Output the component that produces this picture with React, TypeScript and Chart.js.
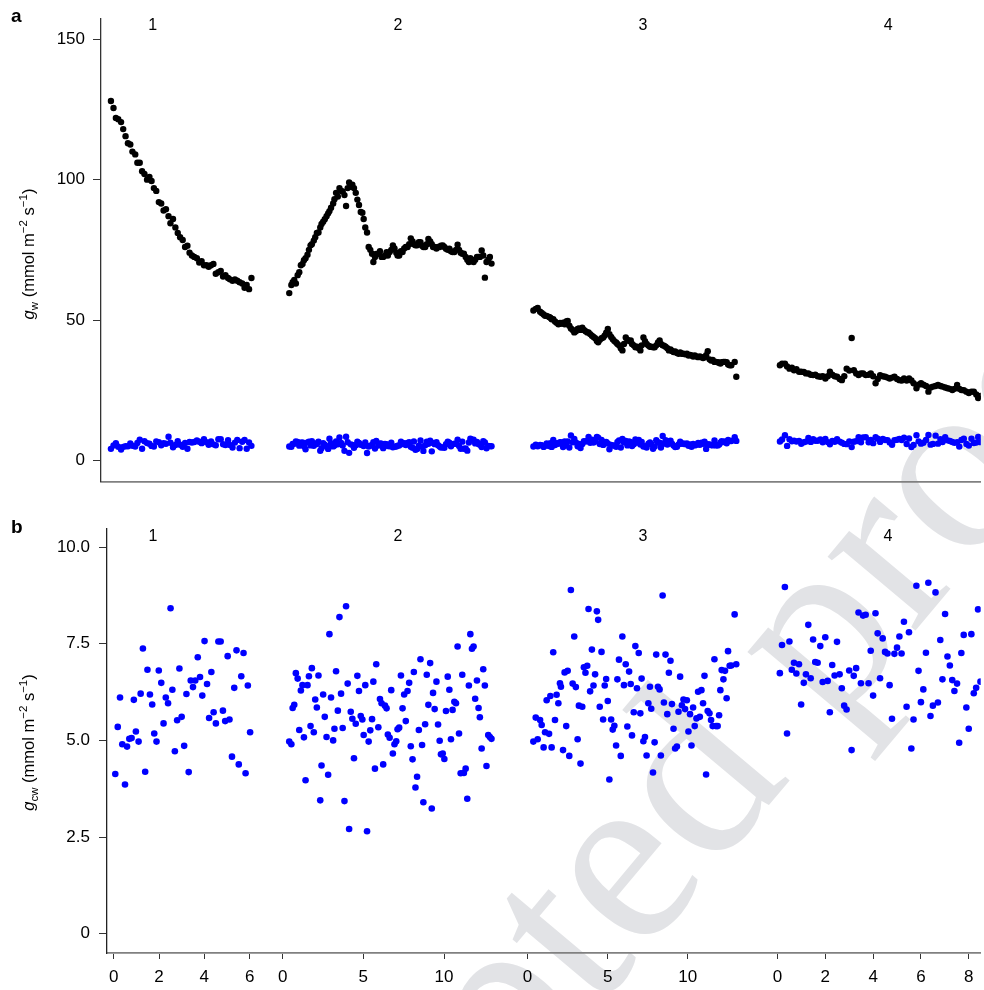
import React, { useEffect, useRef } from "react";
import { Chart, registerables } from "chart.js";

Chart.register(...registerables);

// ---------------- data ----------------
// time within each measurement run (x), g_w (panel a, black) and g_cw (panels a & b, blue)
const timeF1 = [0.07,0.18,0.28,0.38,0.50,0.59,0.69,0.79,0.89,0.98,1.10,1.19,1.29,1.39,1.49,1.60,1.70,1.79,1.89,1.99,2.10,2.20,2.30,2.40,2.51,2.59,2.70,2.80,2.90,3.00,3.11,3.21,3.31,3.40,3.50,3.60,3.71,3.81,3.91,4.01,4.12,4.21,4.31,4.41,4.51,4.62,4.72,4.82,4.92,5.03,5.11,5.22,5.32,5.42,5.52,5.63,5.73,5.82,5.92,6.02];
const gwF1 = [128,125.5,122,121.5,120.5,118,115.5,113,112.5,110,109,106,106,103,102,100,101,99.5,97,96,92,91.5,89,89.5,87,84.5,86,83,81,79.5,78.5,76,76.5,74,73,72.5,72,70.5,71,69.5,69.5,69,69.5,70,66.5,67,67.5,65.5,66,65,64.5,64,64.5,64,63.5,63,61.5,62.5,61,65];
const gcwF1 = [4.13,5.35,6.11,4.90,3.86,4.84,5.04,5.06,6.05,5.23,4.97,6.21,7.38,4.19,6.83,6.19,5.93,5.18,4.97,6.81,6.49,5.44,6.11,5.96,8.42,6.31,4.72,5.52,6.86,5.61,4.86,6.20,4.18,6.55,6.38,6.55,7.15,6.64,6.16,7.57,6.46,5.58,6.77,5.73,5.44,7.56,7.56,5.77,5.50,7.18,5.54,4.58,6.36,7.33,4.38,6.66,7.26,4.15,6.42,5.21];

const timeF2 = [0.41,0.54,0.62,0.72,0.82,0.93,1.03,1.13,1.23,1.32,1.42,1.54,1.63,1.73,1.81,1.93,2.02,2.12,2.22,2.33,2.41,2.51,2.61,2.72,2.82,2.90,3.00,3.13,3.21,3.31,3.42,3.52,3.62,3.72,3.83,3.93,4.03,4.12,4.22,4.32,4.42,4.53,4.63,4.73,4.84,4.94,5.02,5.12,5.23,5.33,5.43,5.54,5.62,5.72,5.80,5.93,6.03,6.13,6.23,6.34,6.44,6.52,6.63,6.73,6.83,6.93,7.04,7.12,7.22,7.33,7.43,7.53,7.63,7.74,7.84,7.94,8.05,8.13,8.23,8.33,8.44,8.54,8.64,8.72,8.83,8.93,9.03,9.14,9.24,9.32,9.42,9.53,9.63,9.73,9.81,9.92,10.02,10.12,10.23,10.33,10.43,10.53,10.64,10.74,10.84,10.93,11.03,11.13,11.23,11.34,11.44,11.54,11.63,11.73,11.83,11.93,12.04,12.14,12.22,12.33,12.43,12.53,12.63,12.74,12.84,12.94];
const gwF2 = [59.6,62.5,63.5,64.3,63,66,67,69.5,70,71.3,72,73.3,75,76.6,77,78.3,79.5,81,81.2,83,84.2,85,85.9,87,88,88.8,90,91.5,93,95.3,94,97,96,95.8,94.5,90.6,97,99,97.5,98.2,97,95.3,92.9,91,88.5,88.2,86,83,81.2,76,75,73.6,70.7,72.5,73.5,73.6,74.5,72.5,72.5,73,74.2,73,74.2,75,76.6,75.5,74,73,73,74.5,74.2,75.5,76,76,77,79.1,78,77,76.6,76.6,77.7,77.7,76.5,76,76,77,78.9,78,77,76,76,75.5,76,76,76.5,76.6,76,75.4,75,75.4,74.5,74.2,74.2,75,76.8,75,74,73.6,73.6,72.5,71.5,70.7,72,71,70.7,71.5,72.5,72.5,72.5,74.8,73,65.1,70.7,71.5,72.5,70.1];
const gcwF2 = [4.97,4.90,5.84,5.92,6.74,6.60,5.27,6.29,6.43,5.08,3.97,6.43,6.66,5.37,6.87,5.21,6.06,5.85,6.68,3.45,4.35,6.19,5.61,5.09,4.11,7.75,6.11,5.00,5.30,6.79,5.77,8.19,6.21,5.32,3.43,8.47,6.47,2.71,5.74,5.56,4.54,5.43,6.67,6.28,5.63,5.54,5.14,6.43,2.65,4.97,5.26,5.55,6.52,4.27,6.97,5.34,6.07,5.96,4.38,5.90,5.83,5.15,5.07,6.30,4.66,4.90,4.98,5.29,5.33,6.68,5.83,6.19,5.50,6.28,6.49,4.85,4.51,6.77,3.78,4.06,5.27,7.10,4.88,3.40,5.42,6.70,5.92,7.00,3.24,6.23,5.81,6.52,5.41,4.99,4.64,4.66,4.52,5.76,6.65,6.31,5.03,5.79,6.00,5.96,7.43,5.18,4.15,6.70,4.16,4.27,3.49,6.42,7.75,7.37,7.43,6.08,6.55,5.84,5.60,4.79,6.84,6.42,4.34,5.14,5.09,5.04];

const timeF3 = [0.37,0.52,0.64,0.79,0.89,1.01,1.10,1.20,1.35,1.43,1.51,1.61,1.72,1.82,1.93,2.03,2.09,2.22,2.32,2.42,2.51,2.61,2.71,2.82,2.92,3.02,3.13,3.21,3.31,3.42,3.52,3.62,3.73,3.81,3.91,4.02,4.12,4.22,4.33,4.41,4.51,4.62,4.72,4.82,4.91,5.01,5.11,5.22,5.32,5.42,5.53,5.61,5.71,5.82,5.92,6.02,6.13,6.23,6.34,6.44,6.52,6.63,6.73,6.83,6.94,7.04,7.12,7.23,7.33,7.43,7.54,7.64,7.72,7.83,7.93,8.03,8.14,8.24,8.32,8.43,8.51,8.61,8.72,8.82,8.92,9.01,9.11,9.21,9.32,9.42,9.52,9.63,9.73,9.83,9.94,10.04,10.14,10.23,10.33,10.43,10.54,10.64,10.75,10.85,10.95,11.04,11.14,11.24,11.35,11.45,11.55,11.66,11.76,11.86,11.95,12.03,12.11,12.22,12.32,12.42,12.51,12.61,12.71,12.92,13.02];
const gwF3 = [53.4,54,54.3,53,52.5,52,51.5,51.5,51.1,50.8,50.3,50.3,49.5,49,48.5,49,48.7,49.1,48.5,49.5,49.7,48,47,46.5,45.6,46,46.8,47,46.5,47.3,46.5,46,45.6,45.6,45,44.4,44,43.5,42.5,42.1,43,43.5,43.8,44.5,45.5,46.8,45,44,43.2,42.5,42,41.5,41,40,39.2,41.5,43.8,43,42.5,42.7,41.5,41,40.3,40.5,40,39.2,41,43.8,42.5,41.5,40.9,40.5,40.5,40.3,40.3,41,42,42.7,41.5,41,40.9,40.5,40,39.2,39.5,39,38.6,38.8,38.3,38,38.5,38,38,37.8,38,37.4,37.6,37.4,37,37.4,37,36.8,37,36.8,36.5,36.8,37.5,38.9,36,35.6,35.8,35.1,35.1,35,34.8,34.5,35,35.1,35.1,35,34.2,33.9,33.9,35.1,29.8];
const gcwF3 = [4.97,5.59,5.03,5.53,5.40,4.82,5.21,6.04,5.17,6.15,4.82,7.28,5.53,6.18,5.96,6.48,6.39,4.75,6.76,5.37,6.80,4.60,8.89,6.47,7.69,6.38,5.03,5.90,4.40,5.87,6.89,6.75,6.93,8.40,6.27,7.35,6.42,6.71,8.34,8.12,5.87,7.29,5.54,6.42,6.59,6.02,3.99,5.54,5.28,5.38,4.87,6.58,7.09,4.60,7.69,6.43,6.97,5.36,6.78,6.46,5.13,5.73,7.44,6.35,7.26,5.70,6.60,4.98,5.09,4.61,5.96,6.39,5.82,4.17,4.95,7.22,6.39,6.32,4.61,8.75,5.98,7.22,5.68,6.75,7.06,5.94,5.30,4.79,4.84,5.74,6.65,5.91,6.06,5.81,6.04,5.23,5.68,4.87,5.85,5.37,5.57,6.26,5.61,6.30,5.96,6.67,4.12,5.76,5.70,5.53,5.37,7.10,5.37,5.37,5.65,6.30,6.82,6.58,6.80,6.09,7.31,6.93,6.94,8.26,6.97];

const timeF4 = [0.10,0.19,0.31,0.40,0.50,0.60,0.69,0.79,0.90,0.99,1.10,1.19,1.29,1.39,1.49,1.58,1.68,1.79,1.89,2.00,2.10,2.19,2.29,2.39,2.49,2.60,2.69,2.79,2.89,3.00,3.10,3.19,3.29,3.39,3.49,3.58,3.69,3.81,3.90,4.00,4.10,4.19,4.29,4.40,4.50,4.60,4.69,4.79,4.89,5.00,5.10,5.19,5.29,5.40,5.50,5.60,5.69,5.81,5.90,6.00,6.10,6.21,6.31,6.40,6.50,6.61,6.71,6.81,6.90,7.01,7.11,7.21,7.31,7.40,7.51,7.60,7.69,7.79,7.90,8.00,8.11,8.21,8.31,8.39,8.49];
const gwF4 = [33.9,34.5,34.5,33.5,32.7,33,32.1,32.5,31.6,31.6,31.5,31,31,30.5,30.4,30.5,30,29.8,30,29.2,30,31.6,30.5,30,29.8,29,28.6,30,32.7,32,43.6,32.1,31,30.4,31,31,30.4,30.5,31,30,27.5,29,30.4,30,29.8,29.5,29.2,29.5,29.8,29,28.6,28.5,29.2,28.5,29.2,28.5,27.5,25.7,27,27.5,27,26.5,24.5,26,26.3,26.5,26.9,26.5,26.3,26,25.7,25.5,25.1,25.5,26.9,25.5,25.1,25,24.5,24,24.5,24.5,23.5,22.2,23];
const gcwF4 = [6.74,7.47,8.97,5.18,7.56,6.83,7.01,6.73,6.97,5.93,6.49,6.71,7.99,6.61,7.61,7.03,7.01,7.44,6.51,7.67,6.54,5.73,6.95,6.68,7.55,6.71,6.35,5.90,5.80,6.81,4.75,6.67,6.87,8.31,6.48,8.23,8.25,6.48,7.32,6.16,8.29,7.77,6.61,7.64,7.29,7.25,6.43,5.56,7.24,7.40,7.69,7.25,8.07,5.87,7.80,4.79,5.54,9.00,6.80,5.99,6.32,7.27,9.08,5.63,5.90,8.83,5.98,7.60,6.58,8.27,7.17,6.94,6.56,6.28,6.47,4.94,7.26,7.73,5.85,5.30,7.75,6.22,6.36,8.39,6.52];

const facetNames = ["1", "2", "3", "4"];
const facetTimes = [timeF1, timeF2, timeF3, timeF4];
const facetGw = [gwF1, gwF2, gwF3, gwF4];
const facetGcw = [gcwF1, gcwF2, gcwF3, gcwF4];
const facetXTicks = [[0, 2, 4, 6], [0, 5, 10], [0, 5, 10], [0, 2, 4, 6, 8]];

const gwYTicks = [0, 50, 100, 150];
const gwYTickLabels = ["0", "50", "100", "150"];
const gcwYTicks = [0, 2.5, 5, 7.5, 10];
const gcwYTickLabels = ["0", "2.5", "5.0", "7.5", "10.0"];

// ---------------- layout (page pixels) ----------------
const PAGE_W = 984;
const PAGE_H = 990;
const FONT = '"Liberation Sans", Arial, Helvetica, sans-serif';
const SERIF = '"Liberation Serif", "Times New Roman", serif';
// each facet occupies its own strip of the shared x scale: page x = origin + perUnit * time
const facetStripsA = [
  { origin: 109.3, perUnit: 23.7 },
  { origin: 283.3, perUnit: 16.2 },
  { origin: 529, perUnit: 16.1 },
  { origin: 780, perUnit: 24 },
];
const facetStripsB = [
  { origin: 113.7, perUnit: 22.75 },
  { origin: 283.3, perUnit: 16.2 },
  { origin: 529, perUnit: 16.1 },
  { origin: 780, perUnit: 24 },
];
const facetLabelPageX = [153, 399, 645, 891];

type Strip = { origin: number; perUnit: number };

function stripPoints(strips: Strip[], values: number[][]) {
  const pts: { x: number; y: number }[] = [];
  values.forEach((vals, f) => {
    const s = strips[f];
    facetTimes[f].forEach((t, i) => {
      if (vals[i] !== undefined) pts.push({ x: s.origin + s.perUnit * t, y: vals[i] });
    });
  });
  return pts;
}

function drawWatermark(ctx: CanvasRenderingContext2D, canvasTop: number) {
  ctx.save();
  ctx.translate(0, -canvasTop);
  ctx.translate(185, 1501);
  ctx.rotate((-50 * Math.PI) / 180);
  ctx.font = `250px ${SERIF}`;
  ctx.fillStyle = "rgb(226,227,230)";
  ctx.textAlign = "left";
  ctx.textBaseline = "alphabetic";
  ctx.fillText("Accepted proof", 0, 0);
  ctx.restore();
}

function drawYTitle(ctx: CanvasRenderingContext2D, cx: number, cy: number, sub: string) {
  const size = 16.5;
  const small = 11.5;
  const parts = [
    { t: "g", f: `italic ${size}px ${FONT}`, dy: 0 },
    { t: sub, f: `${small}px ${FONT}`, dy: 4 },
    { t: " (mmol m", f: `${size}px ${FONT}`, dy: 0 },
    { t: "\u22122", f: `${small}px ${FONT}`, dy: -7 },
    { t: " s", f: `${size}px ${FONT}`, dy: 0 },
    { t: "\u22121", f: `${small}px ${FONT}`, dy: -7 },
    { t: ")", f: `${size}px ${FONT}`, dy: 0 },
  ];
  ctx.save();
  ctx.translate(cx, cy);
  ctx.rotate(-Math.PI / 2);
  ctx.fillStyle = "#000";
  ctx.textBaseline = "alphabetic";
  ctx.textAlign = "left";
  let total = 0;
  const widths = parts.map((p) => {
    ctx.font = p.f;
    const w = ctx.measureText(p.t).width;
    total += w;
    return w;
  });
  let x = -total / 2;
  parts.forEach((p, i) => {
    ctx.font = p.f;
    ctx.fillText(p.t, x, p.dy);
    x += widths[i];
  });
  ctx.restore();
}

type Decor = {
  canvasTop: number;
  letter: string;
  letterY: number;
  facetLabelY: number;
  titleY: number;
  titleSub: string;
};

function makeDecorPlugin(d: Decor) {
  return {
    id: "decor" + d.letter,
    beforeDraw(chart: any) {
      drawWatermark(chart.ctx, d.canvasTop);
    },
    afterDraw(chart: any) {
      const ctx = chart.ctx as CanvasRenderingContext2D;
      const xs = chart.scales.x;
      ctx.save();
      ctx.fillStyle = "#000";
      ctx.font = `bold 19px ${FONT}`;
      ctx.textAlign = "left";
      ctx.textBaseline = "alphabetic";
      ctx.fillText(d.letter, 11, d.letterY - d.canvasTop);
      ctx.font = `16px ${FONT}`;
      ctx.textAlign = "center";
      ctx.textBaseline = "middle";
      facetNames.forEach((n, i) => {
        ctx.fillText(n, xs.getPixelForValue(facetLabelPageX[i]), d.facetLabelY - d.canvasTop);
      });
      ctx.restore();
      drawYTitle(ctx, 34, d.titleY - d.canvasTop, d.titleSub);
    },
  };
}

function PanelA() {
  const ref = useRef<HTMLCanvasElement>(null);
  useEffect(() => {
    const canvas = ref.current!;
    const chart = new Chart(canvas, {
      type: "scatter",
      data: {
        datasets: [
          {
            data: stripPoints(facetStripsA, facetGw),
            backgroundColor: "#000000",
            pointRadius: 3.2,
            pointBorderWidth: 0,
            pointHoverRadius: 3.2,
          },
          {
            data: stripPoints(facetStripsA, facetGcw),
            backgroundColor: "#0000ff",
            pointRadius: 3.2,
            pointBorderWidth: 0,
            pointHoverRadius: 3.2,
          },
        ],
      },
      options: {
        responsive: false,
        animation: false,
        devicePixelRatio: 1,
        events: [],
        layout: { padding: { top: 16, left: 0, right: 0, bottom: 0 } },
        plugins: { legend: { display: false }, tooltip: { enabled: false } },
        scales: {
          x: {
            type: "linear",
            min: 101,
            max: PAGE_W,
            afterFit: (s: any) => {
              s.height = 13;
            },
            ticks: { display: false },
            grid: { display: false },
            border: { display: true, color: "#808080", width: 1.8 },
          },
          y: {
            type: "linear",
            min: -7.6,
            max: 157.5,
            afterFit: (s: any) => {
              s.width = 101;
            },
            afterBuildTicks: (s: any) => {
              s.ticks = gwYTicks.map((v) => ({ value: v }));
            },
            ticks: {
              autoSkip: false,
              padding: 8,
              color: "#000",
              font: { family: FONT, size: 17 },
              callback: (_v: any, i: number) => gwYTickLabels[i],
            },
            grid: { display: true, drawOnChartArea: false, drawTicks: true, tickLength: 8, color: "#333", lineWidth: 1 },
            border: { display: true, color: "#333", width: 1.3 },
          },
        },
      },
      plugins: [
        makeDecorPlugin({ canvasTop: 0, letter: "a", letterY: 21.5, facetLabelY: 25.5, titleY: 254, titleSub: "w" }),
      ],
    } as any);
    return () => chart.destroy();
  }, []);
  return <canvas ref={ref} width={PAGE_W} height={500} style={{ position: "absolute", left: 0, top: 0, width: PAGE_W, height: 500 }} />;
}

function PanelB() {
  const ref = useRef<HTMLCanvasElement>(null);
  useEffect(() => {
    const canvas = ref.current!;
    const xTickValues: number[] = [];
    const xTickLabels: string[] = [];
    facetXTicks.forEach((ticks, f) => {
      ticks.forEach((t) => {
        xTickValues.push(facetStripsB[f].origin + facetStripsB[f].perUnit * t);
        xTickLabels.push(String(t));
      });
    });
    const chart = new Chart(canvas, {
      type: "scatter",
      data: {
        datasets: [
          {
            data: stripPoints(facetStripsB, facetGcw),
            backgroundColor: "#0000ff",
            pointRadius: 3.3,
            pointBorderWidth: 0,
            pointHoverRadius: 3.3,
          },
        ],
      },
      options: {
        responsive: false,
        animation: false,
        devicePixelRatio: 1,
        events: [],
        layout: { padding: { top: 29, left: 0, right: 0, bottom: 0 } },
        plugins: { legend: { display: false }, tooltip: { enabled: false } },
        scales: {
          x: {
            type: "linear",
            min: 107,
            max: PAGE_W,
            afterFit: (s: any) => {
              s.height = 37;
            },
            afterBuildTicks: (s: any) => {
              s.ticks = xTickValues.map((v) => ({ value: v }));
            },
            ticks: {
              autoSkip: false,
              maxRotation: 0,
              padding: 8,
              color: "#000",
              font: { family: FONT, size: 17 },
              callback: (_v: any, i: number) => xTickLabels[i],
            },
            grid: { display: true, drawOnChartArea: false, drawTicks: true, tickLength: 6, color: "#333", lineWidth: 1 },
            border: { display: true, color: "#808080", width: 1.8 },
          },
          y: {
            type: "linear",
            min: -0.5,
            max: 10.47,
            afterFit: (s: any) => {
              s.width = 107;
            },
            afterBuildTicks: (s: any) => {
              s.ticks = gcwYTicks.map((v) => ({ value: v }));
            },
            ticks: {
              autoSkip: false,
              padding: 9,
              color: "#000",
              font: { family: FONT, size: 17 },
              callback: (_v: any, i: number) => gcwYTickLabels[i],
            },
            grid: { display: true, drawOnChartArea: false, drawTicks: true, tickLength: 8, color: "#333", lineWidth: 1 },
            border: { display: true, color: "#222", width: 1.3 },
          },
        },
      },
      plugins: [
        makeDecorPlugin({ canvasTop: 500, letter: "b", letterY: 533, facetLabelY: 537, titleY: 742.5, titleSub: "cw" }),
      ],
    } as any);
    return () => chart.destroy();
  }, []);
  return <canvas ref={ref} width={PAGE_W} height={490} style={{ position: "absolute", left: 0, top: 500, width: PAGE_W, height: 490 }} />;
}

export default function App() {
  return (
    <div style={{ position: "absolute", left: 0, top: 0, width: PAGE_W, height: PAGE_H, overflow: "hidden", background: "#fff" }}>
      <PanelA />
      <PanelB />
    </div>
  );
}
